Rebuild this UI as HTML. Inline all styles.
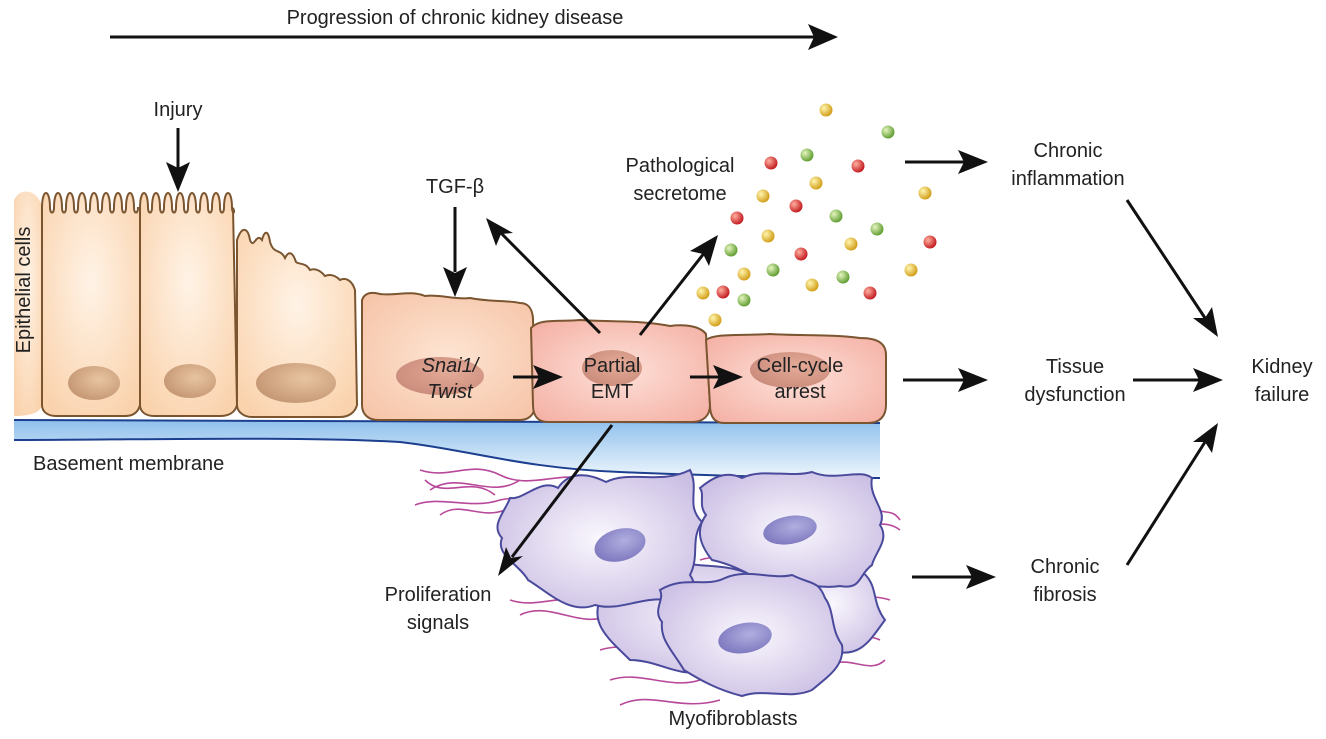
<!DOCTYPE html>
<html><head><meta charset="utf-8"><style>
html,body{margin:0;padding:0;background:#fff}
svg{display:block}
text{font-family:"Liberation Sans",Arial,sans-serif;font-size:20px;fill:#222}
</style></head><body>
<svg width="1326" height="739" viewBox="0 0 1326 739" xmlns="http://www.w3.org/2000/svg">
<defs>
<radialGradient id="ep" cx="0.5" cy="0.4" r="0.7"><stop offset="0" stop-color="#fff3e6"/><stop offset="1" stop-color="#fad2ac"/></radialGradient>
<radialGradient id="ep2" cx="0.5" cy="0.5" r="0.7"><stop offset="0" stop-color="#fde4d2"/><stop offset="1" stop-color="#f6c3a6"/></radialGradient>
<radialGradient id="ep3" cx="0.5" cy="0.5" r="0.7"><stop offset="0" stop-color="#fde0d8"/><stop offset="1" stop-color="#f4aea2"/></radialGradient>
<radialGradient id="nu" cx="0.6" cy="0.4" r="0.7"><stop offset="0" stop-color="#e8c4a0"/><stop offset="1" stop-color="#c29370"/></radialGradient>
<radialGradient id="nu2" cx="0.6" cy="0.4" r="0.7"><stop offset="0" stop-color="#e4aa98"/><stop offset="1" stop-color="#c98a7a"/></radialGradient>
<linearGradient id="bm" x1="0" y1="0" x2="0" y2="1"><stop offset="0" stop-color="#8fc0ec"/><stop offset="1" stop-color="#eef6fd"/></linearGradient>
<radialGradient id="my" cx="0.5" cy="0.5" r="0.6"><stop offset="0" stop-color="#faf7fd"/><stop offset="1" stop-color="#cbbfe4"/></radialGradient>
<radialGradient id="myn" cx="0.6" cy="0.4" r="0.7"><stop offset="0" stop-color="#b0aee0"/><stop offset="1" stop-color="#7a74bc"/></radialGradient>
<radialGradient id="gr" cx="0.35" cy="0.35" r="0.7"><stop offset="0" stop-color="#e6f5c0"/><stop offset="1" stop-color="#5a9a2a"/></radialGradient>
<radialGradient id="rd" cx="0.35" cy="0.35" r="0.7"><stop offset="0" stop-color="#ffb0a0"/><stop offset="1" stop-color="#c0141a"/></radialGradient>
<radialGradient id="yl" cx="0.35" cy="0.35" r="0.7"><stop offset="0" stop-color="#fff6b0"/><stop offset="1" stop-color="#d09a10"/></radialGradient>
</defs>

<text x="455" y="24" text-anchor="middle">Progression of chronic kidney disease</text>
<line x1="110" y1="37" x2="815" y2="37" stroke="#111" stroke-width="3"/>
<polygon points="838,37 808,24 814,37 808,50" fill="#111"/>

<path d="M14,420 L880,423 L880,478 C820,478 720,476 620,472 C520,468 470,450 400,442 C300,436 120,440 14,440 Z" fill="url(#bm)"/>
<path d="M14,420 L880,423" stroke="#1d3f8f" stroke-width="2" fill="none"/>
<path d="M14,440 C120,440 300,436 400,442 C470,450 520,468 620,472 C720,476 820,478 880,478" stroke="#1d3f8f" stroke-width="2" fill="none"/>

<g stroke="#7a5530" stroke-width="2">
<path d="M14,200 C20,188 32,190 38,198 L42,205 L42,405 C40,413 30,416 14,416 Z" fill="url(#ep)" stroke="none"/>
<path d="M42,208 c0,-20 8,-20 8,0 c0,6 4,6 4,0 c0,-20 8,-20 8,0 c0,6 4,6 4,0 c0,-20 8,-20 8,0 c0,6 4,6 4,0 c0,-20 8,-20 8,0 c0,6 4,6 4,0 c0,-20 8,-20 8,0 c0,6 4,6 4,0 c0,-20 8,-20 8,0 c0,6 4,6 4,0 c0,-20 8,-20 8,0 c0,6 4,6 4,0 c0,-20 8,-20 8,0 c0,6 4,6 4,0 L140,208 L140,405 C138,413 132,416 125,416 L56,416 C48,416 42,412 42,405 Z" fill="url(#ep)"/>
<path d="M140,208 c0,-20 8,-20 8,0 c0,6 4,6 4,0 c0,-20 8,-20 8,0 c0,6 4,6 4,0 c0,-20 8,-20 8,0 c0,6 4,6 4,0 c0,-20 8,-20 8,0 c0,6 4,6 4,0 c0,-20 8,-20 8,0 c0,6 4,6 4,0 c0,-20 8,-20 8,0 c0,6 4,6 4,0 c0,-20 8,-20 8,0 c0,6 4,6 4,0 c0,-20 8,-20 8,0 c0,6 4,6 1,0 L237,405 C235,413 228,416 220,416 L154,416 C146,416 140,412 140,405 Z" fill="url(#ep)"/>
<path d="M237,240 C242,225 248,228 250,240 C254,250 256,232 262,240 C264,232 268,228 270,242 C274,255 280,248 285,258 C288,252 292,250 296,262 C300,265 305,262 310,270 C315,268 320,270 325,276 C330,274 335,275 340,280 C345,277 352,280 355,290 L357,405 C355,413 348,417 340,417 L252,417 C244,417 237,412 237,405 Z" fill="url(#ep)"/>
<path d="M362,300 C365,292 372,292 380,294 C395,296 410,290 425,296 C440,294 455,300 470,298 C490,302 505,300 520,303 C528,303 532,308 533,318 L535,405 C535,415 528,420 520,420 L378,420 C368,420 362,414 362,405 Z" fill="url(#ep2)"/>
<path d="M531,328 C540,318 560,322 580,320 C610,322 640,320 670,326 C685,324 700,326 706,334 L710,405 C710,416 703,422 692,422 L548,422 C538,422 533,416 533,405 Z" fill="url(#ep3)"/>
<path d="M706,340 C715,333 740,336 770,334 C800,336 830,334 860,338 C880,338 886,345 886,355 L886,405 C886,416 880,423 868,423 L724,423 C714,423 710,416 710,405 Z" fill="url(#ep3)"/>
</g>
<g>
<ellipse cx="94" cy="383" rx="26" ry="17" fill="url(#nu)"/>
<ellipse cx="190" cy="381" rx="26" ry="17" fill="url(#nu)"/>
<ellipse cx="296" cy="383" rx="40" ry="20" fill="url(#nu)"/>
<ellipse cx="440" cy="376" rx="44" ry="19" fill="url(#nu2)"/>
<ellipse cx="612" cy="368" rx="30" ry="18" fill="url(#nu2)"/>
<ellipse cx="790" cy="370" rx="40" ry="18" fill="url(#nu2)"/>
</g>
<text x="0" y="0" transform="translate(30,290) rotate(-90)" text-anchor="middle">Epithelial cells</text>
<text x="33" y="470">Basement membrane</text>
<text x="450" y="372" text-anchor="middle" font-style="italic">Snai1/</text>
<text x="450" y="398" text-anchor="middle" font-style="italic">Twist</text>
<text x="612" y="372" text-anchor="middle">Partial</text>
<text x="612" y="398" text-anchor="middle">EMT</text>
<text x="800" y="372" text-anchor="middle">Cell-cycle</text>
<text x="800" y="398" text-anchor="middle">arrest</text>

<g stroke="#b8489a" stroke-width="1.6" fill="none">
<path d="M420,470 C450,480 470,460 500,475 C530,490 560,470 590,480"/>
<path d="M415,505 C440,495 470,510 500,500 C520,495 530,505 545,500"/>
<path d="M430,490 C460,470 490,500 520,480"/>
<path d="M425,480 C445,500 470,475 495,495"/>
<path d="M440,515 C460,500 480,520 505,510"/>
<path d="M510,600 C540,610 560,590 600,605 C620,612 640,600 660,610"/>
<path d="M520,615 C550,600 580,630 610,615"/>
<path d="M840,520 C860,535 880,515 900,530"/>
<path d="M870,500 C880,520 890,505 900,520"/>
<path d="M600,650 C630,640 660,660 690,650 C710,644 730,660 760,650"/>
<path d="M610,680 C640,670 670,690 700,680"/>
<path d="M620,705 C650,690 680,712 720,700"/>
<path d="M820,640 C840,650 860,630 880,640"/>
<path d="M700,560 C730,550 760,570 790,560 C810,555 830,570 850,560"/>
<path d="M780,520 C800,540 820,520 840,545"/>
<path d="M810,600 C840,610 860,590 890,600"/>
<path d="M830,665 C850,655 870,675 885,660"/>
</g>

<g stroke="#4a4a9c" stroke-width="2" fill="url(#my)">
<path d="M600,580 C620,560 650,575 670,560 C700,570 730,560 760,580 C780,600 800,590 820,610 C810,640 830,650 800,670 C770,660 740,680 710,670 C680,680 660,660 630,660 C610,640 590,625 600,600 Z"/>
<path d="M780,560 C800,545 830,560 860,570 C880,585 870,600 885,620 C870,640 860,660 830,650 C810,640 790,620 780,600 Z"/>
<path d="M510,498 C525,500 540,478 558,488 C570,470 590,474 606,482 C630,470 660,485 690,470 C700,490 685,505 702,522 C690,540 700,555 690,575 C700,590 690,598 670,600 C640,596 620,612 595,605 C570,615 548,592 528,580 C520,565 495,555 502,538 C490,525 505,512 510,498 Z"/>
<path d="M700,488 C712,478 725,470 742,478 C762,468 790,478 812,472 C835,482 860,468 872,478 C868,498 888,510 880,525 C890,540 875,552 872,565 C858,575 862,590 840,586 C815,590 790,578 770,585 C750,575 735,565 712,560 C700,545 695,530 706,515 C698,505 705,495 700,488 Z"/>
<path d="M660,590 C685,575 705,588 725,578 C748,568 772,580 792,575 C812,585 818,580 825,598 C835,612 830,628 842,645 C845,665 830,675 812,690 C790,700 765,688 742,696 C718,690 700,680 684,670 C672,650 660,640 662,622 C652,610 665,600 660,590 Z"/>
</g>
<g>
<ellipse cx="620" cy="545" rx="26" ry="16" fill="url(#myn)" transform="rotate(-15 620 545)"/>
<ellipse cx="790" cy="530" rx="27" ry="14" fill="url(#myn)" transform="rotate(-10 790 530)"/>
<ellipse cx="745" cy="638" rx="27" ry="15" fill="url(#myn)" transform="rotate(-10 745 638)"/>
</g>

<g>
<circle cx="826" cy="110" r="6.5" fill="url(#yl)"/><circle cx="888" cy="132" r="6.5" fill="url(#gr)"/>
<circle cx="771" cy="163" r="6.5" fill="url(#rd)"/><circle cx="807" cy="155" r="6.5" fill="url(#gr)"/>
<circle cx="858" cy="166" r="6.5" fill="url(#rd)"/><circle cx="816" cy="183" r="6.5" fill="url(#yl)"/>
<circle cx="763" cy="196" r="6.5" fill="url(#yl)"/><circle cx="796" cy="206" r="6.5" fill="url(#rd)"/>
<circle cx="925" cy="193" r="6.5" fill="url(#yl)"/><circle cx="737" cy="218" r="6.5" fill="url(#rd)"/>
<circle cx="836" cy="216" r="6.5" fill="url(#gr)"/><circle cx="877" cy="229" r="6.5" fill="url(#gr)"/>
<circle cx="768" cy="236" r="6.5" fill="url(#yl)"/><circle cx="930" cy="242" r="6.5" fill="url(#rd)"/>
<circle cx="731" cy="250" r="6.5" fill="url(#gr)"/><circle cx="851" cy="244" r="6.5" fill="url(#yl)"/>
<circle cx="801" cy="254" r="6.5" fill="url(#rd)"/><circle cx="773" cy="270" r="6.5" fill="url(#gr)"/>
<circle cx="744" cy="274" r="6.5" fill="url(#yl)"/><circle cx="911" cy="270" r="6.5" fill="url(#yl)"/>
<circle cx="843" cy="277" r="6.5" fill="url(#gr)"/><circle cx="812" cy="285" r="6.5" fill="url(#yl)"/>
<circle cx="703" cy="293" r="6.5" fill="url(#yl)"/><circle cx="723" cy="292" r="6.5" fill="url(#rd)"/>
<circle cx="744" cy="300" r="6.5" fill="url(#gr)"/><circle cx="870" cy="293" r="6.5" fill="url(#rd)"/>
<circle cx="715" cy="320" r="6.5" fill="url(#yl)"/>
</g>

<g stroke="#111" stroke-width="3" fill="none">
<line x1="178" y1="128" x2="178" y2="170"/>
<line x1="455" y1="207" x2="455" y2="272"/>
<line x1="600" y1="333" x2="500" y2="232"/>
<line x1="640" y1="335" x2="705" y2="252"/>
<line x1="513" y1="377" x2="540" y2="377"/>
<line x1="690" y1="377" x2="720" y2="377"/>
<line x1="612" y1="425" x2="512" y2="557"/>
<line x1="905" y1="162" x2="965" y2="162"/>
<line x1="903" y1="380" x2="965" y2="380"/>
<line x1="912" y1="577" x2="973" y2="577"/>
<line x1="1133" y1="380" x2="1200" y2="380"/>
<line x1="1127" y1="200" x2="1205" y2="318"/>
<line x1="1127" y1="565" x2="1205" y2="442"/>
</g>
<g fill="#111">
<polygon points="178,192 166,162 178,168 190,162"/>
<polygon points="455,297 443,267 455,273 467,267"/>
<polygon points="486,218 513,233 501,234 496,246"/>
<polygon points="718,235 709,266 703,254 690,251"/>
<polygon points="563,377 533,365 539,377 533,389"/>
<polygon points="743,377 713,365 719,377 713,389"/>
<polygon points="498,576 506,547 511,558 523,556"/>
<polygon points="988,162 958,150 964,162 958,174"/>
<polygon points="988,380 958,368 964,380 958,392"/>
<polygon points="996,577 966,565 972,577 966,589"/>
<polygon points="1223,380 1193,368 1199,380 1193,392"/>
<polygon points="1218,337 1193,318 1205,318 1212,307"/>
<polygon points="1218,423 1212,453 1205,442 1193,442"/>
</g>

<text x="178" y="116" text-anchor="middle">Injury</text>
<text x="455" y="193" text-anchor="middle">TGF-β</text>
<text x="680" y="172" text-anchor="middle">Pathological</text>
<text x="680" y="200" text-anchor="middle">secretome</text>
<text x="1068" y="157" text-anchor="middle">Chronic</text>
<text x="1068" y="185" text-anchor="middle">inflammation</text>
<text x="1075" y="373" text-anchor="middle">Tissue</text>
<text x="1075" y="401" text-anchor="middle">dysfunction</text>
<text x="1282" y="373" text-anchor="middle">Kidney</text>
<text x="1282" y="401" text-anchor="middle">failure</text>
<text x="1065" y="573" text-anchor="middle">Chronic</text>
<text x="1065" y="601" text-anchor="middle">fibrosis</text>
<text x="438" y="601" text-anchor="middle">Proliferation</text>
<text x="438" y="629" text-anchor="middle">signals</text>
<text x="733" y="725" text-anchor="middle">Myofibroblasts</text>
</svg>
</body></html>
